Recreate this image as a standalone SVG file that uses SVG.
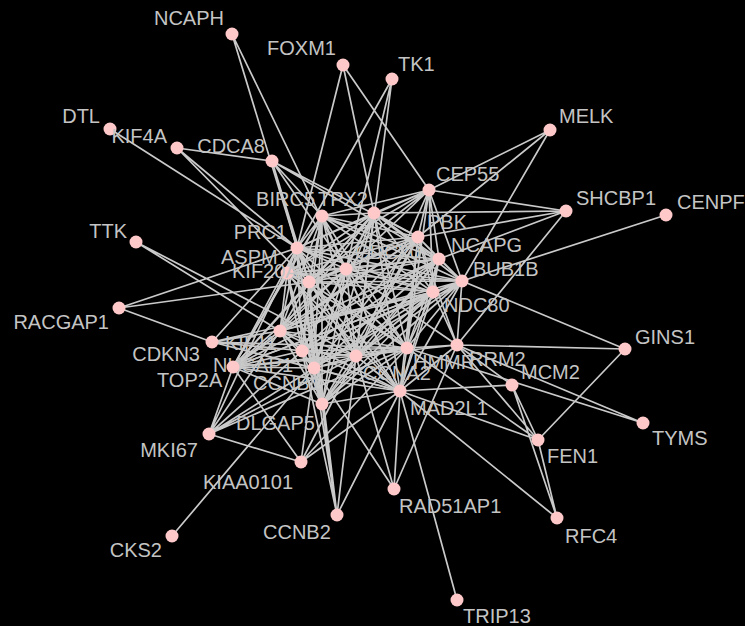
<svg xmlns="http://www.w3.org/2000/svg" width="745" height="626" viewBox="0 0 745 626">
<style>
.e path{stroke:#cacaca;stroke-width:1.7;fill:none}
.n circle{fill:#ffc9c9}
.n text{fill:#c4c4c4;font-family:"Liberation Sans",Arial,sans-serif;font-size:20px}
.r{text-anchor:end}
</style>
<rect width="745" height="626" fill="#000"/>
<g id="edges" class="e">
<path d="M322 216L374 213M322 216L297 248M322 216L287 273M322 216L309 282M322 216L346 269M322 216L418 237M322 216L439 259M322 216L462 281M322 216L433 292M322 216L280 331M322 216L302 351M322 216L314 368M322 216L356 356M322 216L407 348M322 216L400 391M322 216L322 404M322 216L233 367"/>
<path d="M374 213L297 248M374 213L287 273M374 213L309 282M374 213L346 269M374 213L418 237M374 213L439 259M374 213L462 281M374 213L433 292M374 213L280 331M374 213L302 351M374 213L314 368M374 213L356 356M374 213L407 348M374 213L400 391M374 213L322 404M374 213L233 367"/>
<path d="M297 248L287 273M297 248L309 282M297 248L346 269M297 248L418 237M297 248L439 259M297 248L462 281M297 248L433 292M297 248L280 331M297 248L302 351M297 248L314 368M297 248L356 356M297 248L407 348M297 248L400 391M297 248L322 404M297 248L233 367"/>
<path d="M287 273L309 282M287 273L346 269M287 273L418 237M287 273L439 259M287 273L462 281M287 273L433 292M287 273L280 331M287 273L302 351M287 273L314 368M287 273L356 356M287 273L407 348M287 273L400 391M287 273L322 404M287 273L233 367"/>
<path d="M309 282L346 269M309 282L418 237M309 282L439 259M309 282L462 281M309 282L433 292M309 282L280 331M309 282L302 351M309 282L314 368M309 282L356 356M309 282L407 348M309 282L400 391M309 282L322 404M309 282L233 367"/>
<path d="M346 269L418 237M346 269L439 259M346 269L462 281M346 269L433 292M346 269L280 331M346 269L302 351M346 269L314 368M346 269L356 356M346 269L407 348M346 269L400 391M346 269L322 404M346 269L233 367"/>
<path d="M418 237L439 259M418 237L462 281M418 237L433 292M418 237L280 331M418 237L302 351M418 237L314 368M418 237L356 356M418 237L407 348M418 237L400 391M418 237L322 404M418 237L233 367"/>
<path d="M439 259L462 281M439 259L433 292M439 259L280 331M439 259L302 351M439 259L314 368M439 259L356 356M439 259L407 348M439 259L400 391M439 259L322 404M439 259L233 367"/>
<path d="M462 281L433 292M462 281L280 331M462 281L302 351M462 281L314 368M462 281L356 356M462 281L407 348M462 281L400 391M462 281L322 404M462 281L233 367"/>
<path d="M433 292L280 331M433 292L302 351M433 292L314 368M433 292L356 356M433 292L407 348M433 292L400 391M433 292L322 404M433 292L233 367"/>
<path d="M280 331L302 351M280 331L314 368M280 331L356 356M280 331L407 348M280 331L400 391M280 331L322 404M280 331L233 367"/>
<path d="M302 351L314 368M302 351L356 356M302 351L407 348M302 351L400 391M302 351L322 404M302 351L233 367"/>
<path d="M314 368L356 356M314 368L407 348M314 368L400 391M314 368L322 404M314 368L233 367"/>
<path d="M356 356L407 348M356 356L400 391M356 356L322 404M356 356L233 367"/>
<path d="M407 348L400 391M407 348L322 404M407 348L233 367M400 391L322 404M400 391L233 367M322 404L233 367"/>
<path d="M232 34L297 248M232 34L346 269M343 65L297 248M343 65L374 213M343 65L429 190M392 79L297 248M392 79L346 269M392 79L356 356"/>
<path d="M110 129L297 248M177 148L272 161M177 148L297 248M177 148L309 282M272 161L322 216M272 161L297 248M272 161L346 269M272 161L418 237M272 161L309 282M272 161L439 259"/>
<path d="M550 130L429 190M550 130L418 237M550 130L462 281"/>
<path d="M429 190L374 213M429 190L322 216M429 190L297 248M429 190L418 237M429 190L439 259M429 190L462 281M429 190L433 292M429 190L346 269M429 190L309 282M429 190L287 273M429 190L566 211M429 190L356 356M429 190L407 348"/>
<path d="M566 211L418 237M566 211L439 259M566 211L374 213M566 211L457 345M666 215L462 281M625 349L462 281M625 349L457 345M625 349L538 440M643 423L457 345M643 423L407 348"/>
<path d="M512 385L457 345M512 385L400 391M512 385L538 440M512 385L557 518M538 440L557 518M538 440L457 345M538 440L400 391M538 440L407 348M557 518L400 391M457 600L400 391"/>
<path d="M394 489L400 391M394 489L457 345M394 489L356 356M394 489L314 368"/>
<path d="M337 515L314 368M337 515L322 404M337 515L302 351M337 515L400 391M337 515L356 356M337 515L309 282"/>
<path d="M301 462L233 367M301 462L314 368M301 462L400 391M301 462L356 356M301 462L407 348M301 462L209 434M172 536L314 368"/>
<path d="M209 434L280 331M209 434L302 351M209 434L314 368M209 434L356 356M209 434L233 367M209 434L407 348M209 434L297 248"/>
<path d="M119 308L297 248M119 308L309 282M119 308L212 342M136 242L280 331M136 242L356 356"/>
<path d="M212 342L297 248M212 342L433 292M212 342L407 348M212 342L356 356M212 342L314 368M212 342L400 391M212 342L280 331"/>
<path d="M457 345L462 281M457 345L433 292M457 345L407 348M457 345L400 391M457 345L356 356M457 345L346 269M457 345L418 237"/>
</g>
<g class="n">
<g id="NCAPH"><circle cx="232" cy="34" r="6.5"/><text class="r" x="224" y="25">NCAPH</text></g>
<g id="FOXM1"><circle cx="343" cy="65" r="6.5"/><text class="r" x="336" y="55">FOXM1</text></g>
<g id="TK1"><circle cx="392" cy="79" r="6.5"/><text x="398" y="71">TK1</text></g>
<g id="DTL"><circle cx="110" cy="129" r="6.5"/><text class="r" x="100" y="123">DTL</text></g>
<g id="KIF4A"><circle cx="177" cy="148" r="6.5"/><text class="r" x="167" y="143">KIF4A</text></g>
<g id="CDCA8"><circle cx="272" cy="161" r="6.5"/><text class="r" x="265" y="153">CDCA8</text></g>
<g id="MELK"><circle cx="550" cy="130" r="6.5"/><text x="559" y="123">MELK</text></g>
<g id="CEP55"><circle cx="429" cy="190" r="6.5"/><text x="436" y="181">CEP55</text></g>
<g id="SHCBP1"><circle cx="566" cy="211" r="6.5"/><text x="576" y="205">SHCBP1</text></g>
<g id="CENPF"><circle cx="666" cy="215" r="6.5"/><text x="677" y="209">CENPF</text></g>
<g id="BIRC5"><circle cx="322" cy="216" r="6.5"/><text class="r" x="315" y="206">BIRC5</text></g>
<g id="TPX2"><circle cx="374" cy="213" r="6.5"/><text class="r" x="368" y="206">TPX2</text></g>
<g id="TTK"><circle cx="136" cy="242" r="6.5"/><text class="r" x="127" y="238">TTK</text></g>
<g id="PRC1"><circle cx="297" cy="248" r="6.5"/><text class="r" x="287" y="239">PRC1</text></g>
<g id="PBK"><circle cx="418" cy="237" r="6.5"/><text x="427" y="229">PBK</text></g>
<g id="NCAPG"><circle cx="439" cy="259" r="6.5"/><text x="451" y="252">NCAPG</text></g>
<g id="BUB1B"><circle cx="462" cy="281" r="6.5"/><text x="473" y="276">BUB1B</text></g>
<g id="ASPM"><circle cx="287" cy="273" r="6.5"/><text x="221" y="264">ASPM</text></g>
<g id="KIF20A"><circle cx="309" cy="282" r="6.5"/><text x="232" y="278">KIF20A</text></g>
<g id="CDC20"><circle cx="346" cy="269" r="6.5"/><text x="355" y="259">CDC20</text></g>
<g id="NDC80"><circle cx="433" cy="292" r="6.5"/><text x="444" y="312">NDC80</text></g>
<g id="RACGAP1"><circle cx="119" cy="308" r="6.5"/><text class="r" x="109" y="329">RACGAP1</text></g>
<g id="KIF11"><circle cx="280" cy="331" r="6.5"/><text x="225" y="350">KIF11</text></g>
<g id="CDKN3"><circle cx="212" cy="342" r="6.5"/><text class="r" x="200" y="361">CDKN3</text></g>
<g id="NUSAP1"><circle cx="302" cy="351" r="6.5"/><text x="213" y="372">NUSAP1</text></g>
<g id="TOP2A"><circle cx="233" cy="367" r="6.5"/><text x="157" y="387">TOP2A</text></g>
<g id="CCNB1"><circle cx="314" cy="368" r="6.5"/><text x="253" y="390">CCNB1</text></g>
<g id="CCNA2"><circle cx="356" cy="356" r="6.5"/><text x="363" y="380">CCNA2</text></g>
<g id="HMMR"><circle cx="407" cy="348" r="6.5"/><text x="413" y="369">HMMR</text></g>
<g id="RRM2"><circle cx="457" cy="345" r="6.5"/><text x="469" y="366">RRM2</text></g>
<g id="MCM2"><circle cx="512" cy="385" r="6.5"/><text x="521" y="379">MCM2</text></g>
<g id="GINS1"><circle cx="625" cy="349" r="6.5"/><text x="635" y="344">GINS1</text></g>
<g id="MAD2L1"><circle cx="400" cy="391" r="6.5"/><text x="410" y="415">MAD2L1</text></g>
<g id="DLGAP5"><circle cx="322" cy="404" r="6.5"/><text x="236" y="430">DLGAP5</text></g>
<g id="MKI67"><circle cx="209" cy="434" r="6.5"/><text class="r" x="198" y="457">MKI67</text></g>
<g id="KIAA0101"><circle cx="301" cy="462" r="6.5"/><text x="203" y="489">KIAA0101</text></g>
<g id="CKS2"><circle cx="172" cy="536" r="6.5"/><text class="r" x="162" y="557">CKS2</text></g>
<g id="CCNB2"><circle cx="337" cy="515" r="6.5"/><text x="263" y="539">CCNB2</text></g>
<g id="RAD51AP1"><circle cx="394" cy="489" r="6.5"/><text x="399" y="513">RAD51AP1</text></g>
<g id="TRIP13"><circle cx="457" cy="600" r="6.5"/><text x="463" y="623">TRIP13</text></g>
<g id="RFC4"><circle cx="557" cy="518" r="6.5"/><text x="565" y="543">RFC4</text></g>
<g id="FEN1"><circle cx="538" cy="440" r="6.5"/><text x="547" y="463">FEN1</text></g>
<g id="TYMS"><circle cx="643" cy="423" r="6.5"/><text x="652" y="445">TYMS</text></g>
</g>
</svg>
